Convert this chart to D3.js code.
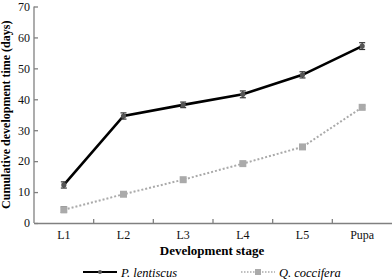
<!DOCTYPE html>
<html>
<head>
<meta charset="utf-8">
<script src="https://cdn.jsdelivr.net/npm/d3@7"></script>
<style>
  body { margin: 0; background: #fff; }
  svg { display: block; font-family: "Liberation Serif", "Times New Roman", serif; }
</style>
</head>
<body>
<svg id="chart"></svg>
<script>
const stages = ["L1", "L2", "L3", "L4", "L5", "Pupa"];
const lentiscus = [12.3, 34.6, 38.2, 41.6, 47.9, 57.2];
const lentiscusErr = [1.0, 1.0, 0.9, 1.1, 1.0, 1.1];
const coccifera = [4.3, 9.3, 14.0, 19.2, 24.6, 37.4];
const cocciferaErr = [0.9, 0.4, 0.4, 0.4, 0.4, 0.5];
const yTicks = [0, 10, 20, 30, 40, 50, 60, 70];

const width = 392, height = 280;
const margin = { top: 6.5, right: 0, bottom: 57, left: 34 };
const serif = "'Liberation Serif', 'Times New Roman', serif";

const svg = d3.select("#chart").attr("width", width).attr("height", height);

const x = d3.scaleBand().domain(stages).range([margin.left, width - margin.right]);
const y = d3.scaleLinear().domain([0, 70]).range([height - margin.bottom, margin.top]);

const axisColor = "#808080";

// y axis with inward ticks
const yAxis = svg.append("g")
  .attr("transform", `translate(${margin.left},0)`)
  .call(d3.axisRight(y).tickValues(yTicks).tickSize(4).tickFormat(d3.format("d")))
  .attr("font-family", serif);
yAxis.select(".domain").attr("stroke", axisColor).attr("stroke-width", 1.3).attr("d", `M0,${y(0)}V${y(70)}`);
yAxis.selectAll(".tick line").attr("stroke", axisColor).attr("stroke-width", 1.3);
yAxis.selectAll(".tick text")
  .attr("x", -4).attr("text-anchor", "end")
  .attr("font-size", 12).attr("fill", "#111");

// x axis: ticks between categories, pointing up
const xAxis = svg.append("g")
  .attr("transform", `translate(0,${y(0)})`)
  .call(d3.axisBottom(x).tickSize(0).tickPadding(7))
  .attr("font-family", serif);
xAxis.select(".domain").attr("stroke", axisColor).attr("stroke-width", 1.3);
xAxis.selectAll(".tick text").attr("font-size", 12).attr("fill", "#111");
xAxis.selectAll(".sep")
  .data(stages.slice(1))
  .join("line")
  .attr("class", "sep")
  .attr("x1", d => x(d)).attr("x2", d => x(d))
  .attr("y1", 0).attr("y2", -4)
  .attr("stroke", axisColor).attr("stroke-width", 1.3);

// axis titles
svg.append("text")
  .attr("transform", `translate(10,${(y(0) + y(70)) / 2}) rotate(-90)`)
  .attr("text-anchor", "middle")
  .attr("font-size", 12).attr("font-weight", "bold")
  .text("Cumulative development time (days)");

svg.append("text")
  .attr("x", (margin.left + width) / 2 - 1).attr("y", 255)
  .attr("text-anchor", "middle")
  .attr("font-size", 13).attr("font-weight", "bold")
  .text("Development stage");

const cx = d => x(d) + x.bandwidth() / 2;
const line = d3.line().x(d => cx(d.stage)).y(d => y(d.v));

const series = [
  { name: "P. lentiscus", vals: lentiscus, errs: lentiscusErr, color: "#000", width: 2.6, dash: null, marker: "circle", mcolor: "#555" },
  { name: "Q. coccifera", vals: coccifera, errs: cocciferaErr, color: "#aaa", width: 2, dash: "2,2", marker: "square", mcolor: "#aaa" }
];

series.slice().reverse().forEach(s => {
  const pts = stages.map((st, i) => ({ stage: st, v: s.vals[i], e: s.errs[i] }));
  const g = svg.append("g");
  g.append("path").datum(pts)
    .attr("d", line).attr("fill", "none")
    .attr("stroke", s.color).attr("stroke-width", s.width)
    .attr("stroke-dasharray", s.dash);

  // error bars
  const eb = g.selectAll(".eb").data(pts).join("g").attr("stroke", "#333").attr("stroke-width", 1.2);
  eb.append("line").attr("x1", d => cx(d.stage)).attr("x2", d => cx(d.stage))
    .attr("y1", d => y(d.v - d.e)).attr("y2", d => y(d.v + d.e));
  eb.append("line").attr("x1", d => cx(d.stage) - 3).attr("x2", d => cx(d.stage) + 3)
    .attr("y1", d => y(d.v - d.e)).attr("y2", d => y(d.v - d.e));
  eb.append("line").attr("x1", d => cx(d.stage) - 3).attr("x2", d => cx(d.stage) + 3)
    .attr("y1", d => y(d.v + d.e)).attr("y2", d => y(d.v + d.e));

  if (s.marker === "circle") {
    g.selectAll(".m").data(pts).join("circle")
      .attr("cx", d => cx(d.stage)).attr("cy", d => y(d.v)).attr("r", 2.6)
      .attr("fill", s.mcolor);
  } else {
    g.selectAll(".m").data(pts).join("rect")
      .attr("x", d => cx(d.stage) - 3.5).attr("y", d => y(d.v) - 3.5)
      .attr("width", 7).attr("height", 7)
      .attr("fill", s.mcolor);
  }
});

// legend
const legendX = [83, 241];
series.forEach((s, i) => {
  const lg = svg.append("g").attr("transform", `translate(${legendX[i]},272)`);
  lg.append("line").attr("x1", 0).attr("x2", 34).attr("y1", 0).attr("y2", 0)
    .attr("stroke", s.color).attr("stroke-width", s.width - 0.4)
    .attr("stroke-dasharray", s.dash ? "1.5,1.5" : null);
  if (s.marker === "circle") {
    lg.append("circle").attr("cx", 17).attr("cy", 0).attr("r", 2).attr("fill", s.mcolor);
  } else {
    lg.append("rect").attr("x", 14).attr("y", -3).attr("width", 6).attr("height", 6).attr("fill", s.mcolor);
  }
  lg.append("text").attr("x", 38).attr("y", 4.5)
    .attr("font-size", 12.5).attr("font-style", "italic")
    .text(s.name);
});
</script>
</body>
</html>
